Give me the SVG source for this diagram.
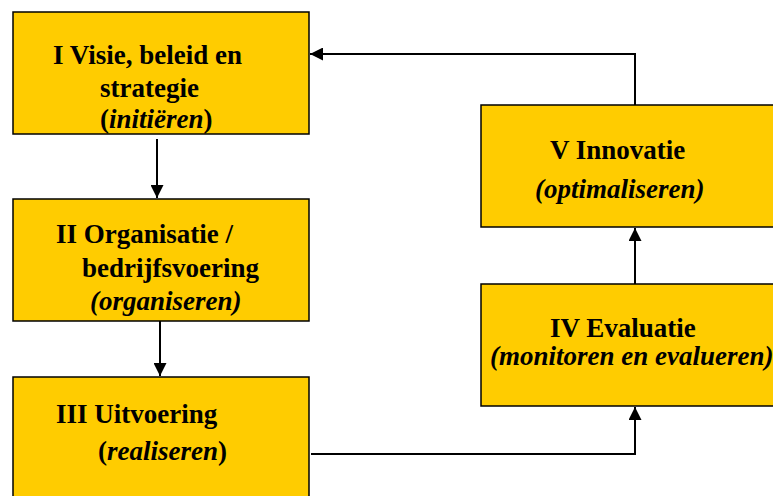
<svg xmlns="http://www.w3.org/2000/svg" width="773" height="496" viewBox="0 0 773 496">
<style>
.box{fill:#FFCC00;stroke:#000;stroke-width:1.5}
.t{font-family:"Liberation Serif","Times New Roman",serif;font-weight:bold;font-size:27px;fill:#000}
.i{font-style:italic}
.c{fill:none;stroke:#000;stroke-width:2}
</style>
<defs>
<marker id="ah" viewBox="0 0 13 13" refX="13" refY="6.5" markerWidth="13" markerHeight="13" markerUnits="userSpaceOnUse" orient="auto">
<path d="M0,0 L13,6.5 L0,13 Z" fill="#000"/>
</marker>
</defs>
<rect width="773" height="496" fill="#fff"/>
<g id="node-I">
<rect class="box" x="13" y="12" width="296" height="122"/>
<text class="t" x="53" y="64">I Visie, beleid en</text>
<text class="t" x="100" y="97">strategie</text>
<text class="t" x="100" y="128">(<tspan class="i">initiëren</tspan>)</text>
</g>
<g id="node-II">
<rect class="box" x="13" y="199" width="296" height="122"/>
<text class="t" x="56" y="243">II Organisatie /</text>
<text class="t" x="82" y="277">bedrijfsvoering</text>
<text class="t i" x="90" y="310">(organiseren)</text>
</g>
<g id="node-III">
<rect class="box" x="13" y="377" width="296" height="140"/>
<text class="t" x="56" y="423">III Uitvoering</text>
<text class="t" x="98" y="460">(<tspan class="i">realiseren</tspan>)</text>
</g>
<g id="node-IV">
<rect class="box" x="481" y="284" width="320" height="122"/>
<text class="t" x="550" y="337">IV Evaluatie</text>
<text class="t i" x="490" y="365">(monitoren en evalueren)</text>
</g>
<g id="node-V">
<rect class="box" x="481" y="105" width="320" height="122"/>
<text class="t" x="550" y="159">V Innovatie</text>
<text class="t i" x="535" y="198">(optimaliseren)</text>
</g>
<g id="connectors">
<path class="c" d="M157,139 V198" marker-end="url(#ah)"/>
<path class="c" d="M160,321 V376" marker-end="url(#ah)"/>
<path class="c" d="M311,454 H635 V407" marker-end="url(#ah)"/>
<path class="c" d="M635,284 V228" marker-end="url(#ah)"/>
<path class="c" d="M635,105 V54 H310" marker-end="url(#ah)"/>
</g>
</svg>
